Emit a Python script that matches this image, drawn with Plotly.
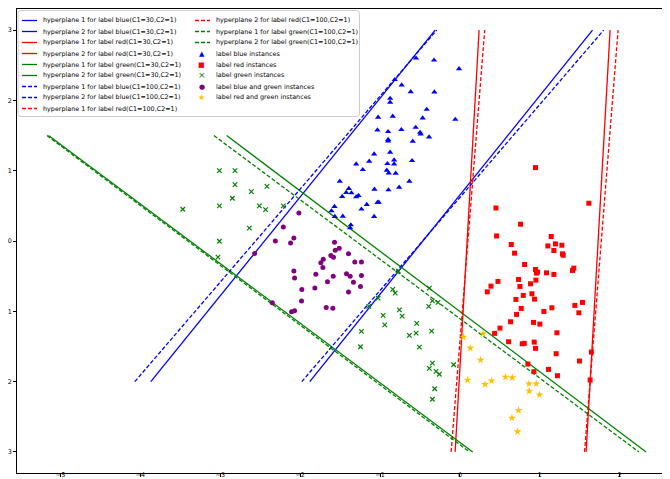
import plotly.graph_objects as go

# ---------------- data ----------------
# hyperplane end points (x pairs, y pairs)
blue_c30_h1_x = [-3.87, -0.31]; blue_c30_h1_y = [-2.0, 3.0]
blue_c30_h2_x = [-1.88, 1.66];  blue_c30_h2_y = [-2.0, 3.0]
red_c30_h1_x = [-0.06, 0.24];   red_c30_h1_y = [-3.0, 3.0]
red_c30_h2_x = [1.58, 1.88];    red_c30_h2_y = [-3.0, 3.0]
green_c30_h1_x = [-2.92, 2.33]; green_c30_h1_y = [1.5, -3.0]
green_c30_h2_x = [-5.15, 0.16]; green_c30_h2_y = [1.5, -3.0]
blue_c100_h1_x = [-4.07, -0.29]; blue_c100_h1_y = [-2.0, 3.0]
blue_c100_h2_x = [-1.98, 1.80];  blue_c100_h2_y = [-2.0, 3.0]
red_c100_h1_x = [-0.11, 0.31];   red_c100_h1_y = [-3.0, 3.0]
red_c100_h2_x = [1.56, 1.98];    red_c100_h2_y = [-3.0, 3.0]
green_c100_h1_x = [-3.08, 2.24]; green_c100_h1_y = [1.5, -3.0]
green_c100_h2_x = [-5.17, 0.12]; green_c100_h2_y = [1.5, -3.0]

blue_x = [-0.549, -0.324, -0.011, -0.816, -0.729, -0.616, -0.320, -0.874, -0.874, -0.416,
          -1.024, -0.841, -0.466, -0.058, -1.033, -0.899, -0.733, -0.554, -0.499, -0.491,
          -0.386, -0.899, -0.899, -0.591, -1.074, -0.874, -1.136, -1.299, -1.216, -0.908,
          -0.824, -0.824, -0.599, -0.916, -0.891, -0.804, -1.504, -1.391, -1.424, -1.358,
          -1.474, -1.299, -1.270, -1.070, -0.895, -0.761, -0.633, -1.570, -1.608, -1.166,
          -1.233, -1.033, -1.016, -1.366, -1.074, -1.566, -1.466, -1.374]
blue_y = [2.601, 2.572, 2.450, 2.294, 2.218, 2.123, 2.118, 2.028, 1.972, 1.872,
          1.759, 1.773, 1.749, 1.730, 1.578, 1.555, 1.584, 1.616, 1.545, 1.521,
          1.479, 1.442, 1.422, 1.418, 1.237, 1.261, 1.133, 1.095, 1.015, 1.100,
          1.152, 1.095, 1.143, 1.006, 0.967, 0.963, 0.849, 0.746, 0.689, 0.683,
          0.632, 0.626, 0.646, 0.736, 0.726, 0.764, 0.849, 0.490, 0.428, 0.518,
          0.452, 0.547, 0.551, 0.229, 0.348, 0.348, 0.352, 0.186]

red_x = [0.946, 1.614, 0.451, 0.759, 0.459, 1.143, 0.643, 1.101, 1.196, 1.276,
         1.176, 1.284, 1.293, 0.684, 0.809, 0.946, 0.971, 0.959, 1.084, 1.176,
         1.426, 1.409, 0.476, 0.734, 0.389, 0.343, 0.751, 0.884, 0.951, 0.901,
         0.793, 0.934, 0.701, 0.768, 0.709, 1.051, 1.151, 1.439, 1.534, 1.489,
         0.634, 0.921, 1.001, 0.501, 0.434, 1.214, 0.609, 0.780, 0.805, 0.930,
         0.946, 1.205, 1.496, 1.109, 1.221, 0.851, 0.926, 1.646, 1.630]
red_y = [1.044, 0.537, 0.470, 0.239, 0.072, 0.064, -0.050, -0.070, -0.041, -0.060,
         -0.135, -0.183, -0.202, -0.173, -0.334, -0.405, -0.443, -0.457, -0.453, -0.476,
         -0.386, -0.419, -0.575, -0.547, -0.642, -0.723, -0.646, -0.609, -0.557, -0.751,
         -0.774, -0.827, -0.831, -0.959, -1.044, -1.002, -0.950, -0.916, -0.874, -1.021,
         -1.149, -1.158, -1.182, -1.239, -1.314, -1.305, -1.433, -1.462, -1.456, -1.438,
         -1.527, -1.603, -1.707, -1.826, -1.916, -1.750, -1.859, -1.580, -1.977]

green_x = [-3.011, -2.816, -2.816, -2.611, -2.416, -2.849, -3.011, -2.511, -2.433, -2.211,
           -3.470, -2.636, -3.011, -3.029,
           -0.841, -0.811, -1.024, -1.141, -0.758, -0.724, -0.961, -0.941, -0.383, -0.345,
           -0.391, -0.274, -0.541, -0.549, -0.633, -0.354, -1.233, -1.245, -0.508, -0.345,
           -0.383, -0.299, -0.258, -0.079, -0.316, -0.345, -0.770]
green_y = [1.001, 1.001, 0.802, 0.703, 0.778, 0.608, 0.499, 0.499, 0.447, 0.499,
           0.452, 0.182, -0.003, -0.230,
           -0.689, -0.741, -0.813, -0.930, -0.979, -1.068, -1.058, -1.192, -0.670, -0.851,
           -0.930, -0.874, -1.172, -1.310, -1.342, -1.281, -1.286, -1.504, -1.509, -1.736,
           -1.811, -1.854, -1.896, -1.760, -2.101, -2.251, -0.429]

purple_x = [-2.016, -2.211, -2.079, -2.120, -2.311, -2.570, -1.570, -1.511, -1.561, -1.616,
            -1.583, -1.711, -1.741, -1.716, -1.395, -1.316, -1.233, -1.804, -1.586, -1.420,
            -1.374, -1.233, -2.079, -2.070, -1.658, -1.333, -1.245, -1.979, -1.816, -1.395,
            -1.983, -2.349, -1.674, -1.591, -2.108, -2.070]
purple_y = [0.399, 0.200, 0.044, -0.027, 0.001, -0.178, -0.017, -0.102, -0.131, -0.206,
            -0.230, -0.259, -0.311, -0.376, -0.183, -0.297, -0.297, -0.472, -0.500, -0.467,
            -0.500, -0.490, -0.425, -0.528, -0.581, -0.585, -0.646, -0.689, -0.670, -0.727,
            -0.855, -0.879, -0.945, -0.955, -1.007, -0.993]

yellow_x = [0.043, 0.289, 0.130, 0.259, 0.096, 0.314, 0.396, 0.571, 0.655, 0.864,
            0.955, 0.868, 0.996, 0.734, 0.651, 0.721]
yellow_y = [-1.366, -1.319, -1.523, -1.693, -1.977, -2.039, -1.987, -1.935, -1.944, -2.030,
            -2.030, -2.134, -2.186, -2.408, -2.517, -2.712]

x_ticks = [-5, -4, -3, -2, -1, 0, 1, 2]
y_ticks = [-3, -2, -1, 0, 1, 2, 3]

# ---------------- figure ----------------
BLUE, RED, GREEN = "#0000ff", "#ff0000", "#008000"
PURPLE, GOLD = "#800080", "#ffc000"
DASH = "4px,2px"
FONT = "DejaVu Sans, Verdana, sans-serif"

lines = [
    ("hyperplane 1 for label blue(C1=30,C2=1)", blue_c30_h1_x, blue_c30_h1_y, BLUE, "solid"),
    ("hyperplane 2 for label blue(C1=30,C2=1)", blue_c30_h2_x, blue_c30_h2_y, BLUE, "solid"),
    ("hyperplane 1 for label red(C1=30,C2=1)", red_c30_h1_x, red_c30_h1_y, RED, "solid"),
    ("hyperplane 2 for label red(C1=30,C2=1)", red_c30_h2_x, red_c30_h2_y, RED, "solid"),
    ("hyperplane 1 for label green(C1=30,C2=1)", green_c30_h1_x, green_c30_h1_y, GREEN, "solid"),
    ("hyperplane 2 for label green(C1=30,C2=1)", green_c30_h2_x, green_c30_h2_y, GREEN, "solid"),
    ("hyperplane 1 for label blue(C1=100,C2=1)", blue_c100_h1_x, blue_c100_h1_y, BLUE, DASH),
    ("hyperplane 2 for label blue(C1=100,C2=1)", blue_c100_h2_x, blue_c100_h2_y, BLUE, DASH),
    ("hyperplane 1 for label red(C1=100,C2=1)", red_c100_h1_x, red_c100_h1_y, RED, DASH),
    ("hyperplane 2 for label red(C1=100,C2=1)", red_c100_h2_x, red_c100_h2_y, RED, DASH),
    ("hyperplane 1 for label green(C1=100,C2=1)", green_c100_h1_x, green_c100_h1_y, GREEN, DASH),
    ("hyperplane 2 for label green(C1=100,C2=1)", green_c100_h2_x, green_c100_h2_y, GREEN, DASH),
]

fig = go.Figure()
for name, xs, ys, col, dash in lines:
    fig.add_trace(go.Scatter(x=xs, y=ys, mode="lines", name=name, showlegend=False,
                             line=dict(color=col, width=1.3, dash=dash), hoverinfo="skip"))

scatters = [
    ("label blue instances", blue_x, blue_y, dict(symbol="triangle-up", size=5.5, color=BLUE), "▲", BLUE, 7),
    ("label red instances", red_x, red_y, dict(symbol="square", size=5, color=RED), "■", RED, 7),
    ("label green instances", green_x, green_y,
     dict(symbol="x-thin", size=4.5, color=GREEN, line=dict(color=GREEN, width=1.2)), "×", GREEN, 9),
    ("label blue and green instances", purple_x, purple_y, dict(symbol="circle", size=5, color=PURPLE), "●", PURPLE, 7),
    ("label red and green instances", yellow_x, yellow_y, dict(symbol="star", size=6, color=GOLD), "★", GOLD, 8),
]
for name, xs, ys, mk, g, gc, gs in scatters:
    fig.add_trace(go.Scatter(x=xs, y=ys, mode="markers", name=name, showlegend=False, marker=mk))

# ---------------- manual two-column legend (matplotlib style) ----------------
W, H = 670, 479
ML, MR, MT, MB = 9, 2, 1, 14
PW, PH = W - ML - MR, H - MT - MB


def px(xp):
    return (xp - ML) / PW


def py(yp):
    return (H - MB - yp) / PH


shapes = []
annotations = []
# legend frame with rounded corners
x0, x1, y0, y1 = px(10), px(351.5), py(108.5), py(2.5)
rx, ry = 3 / PW, 3 / PH
frame = (f"M{x0+rx},{y1} L{x1-rx},{y1} Q{x1},{y1} {x1},{y1-ry} L{x1},{y0+ry} Q{x1},{y0} {x1-rx},{y0} "
         f"L{x0+rx},{y0} Q{x0},{y0} {x0},{y0+ry} L{x0},{y1-ry} Q{x0},{y1} {x0+rx},{y1} Z")
shapes.append(dict(type="path", path=frame, xref="paper", yref="paper", layer="above",
                   fillcolor="rgba(255,255,255,0.8)", line=dict(color="#cccccc", width=1)))

entries = [("line", n, c, d) for n, _, _, c, d in lines] + \
          [("marker", n, gc, (g, gs)) for n, _, _, _, g, gc, gs in scatters]
col_x = [14, 187]
for i, (kind, name, col, extra) in enumerate(entries):
    c = 0 if i < 9 else 1
    r = i if i < 9 else i - 9
    yy = py(12.5 + 11 * r)
    lx = col_x[c]
    if kind == "line":
        shapes.append(dict(type="line", xref="paper", yref="paper", layer="above",
                           x0=px(lx), x1=px(lx + 15), y0=yy, y1=yy,
                           line=dict(color=col, width=1.3, dash=extra)))
    else:
        g, gs = extra
        annotations.append(dict(x=px(lx + 6.5), y=yy, xref="paper", yref="paper", text=g,
                                showarrow=False, xanchor="center", yanchor="middle",
                                font=dict(size=gs, color=col, family=FONT), borderpad=0))
    annotations.append(dict(x=px(lx + 20), y=yy, xref="paper", yref="paper", text=name,
                            showarrow=False, xanchor="left", yanchor="middle",
                            font=dict(size=6.4, color="#000000", family=FONT), borderpad=0))

axis_common = dict(showgrid=False, zeroline=False, showline=True, mirror=True,
                   linecolor="#000000", linewidth=1, ticks="outside", ticklen=3,
                   tickwidth=1, tickcolor="#000000", automargin=False,
                   tickfont=dict(size=6.4, color="#000000", family=FONT))

fig.update_layout(
    width=W, height=H,
    margin=dict(l=ML, r=MR, t=MT, b=MB, pad=0),
    paper_bgcolor="white", plot_bgcolor="white",
    showlegend=False,
    xaxis=dict(range=[-5.545, 2.705], tickvals=x_ticks, ticklabelstandoff=-8,
               ticktext=[f"\u2212{abs(v)}" if v < 0 else str(v) for v in x_ticks], **axis_common),
    yaxis=dict(range=[-3.3, 3.3], tickvals=y_ticks,
               ticktext=[f"\u2212{abs(v)}" if v < 0 else str(v) for v in y_ticks], **axis_common),
    shapes=shapes,
    annotations=annotations,
)

fig.write_html("out.html")
